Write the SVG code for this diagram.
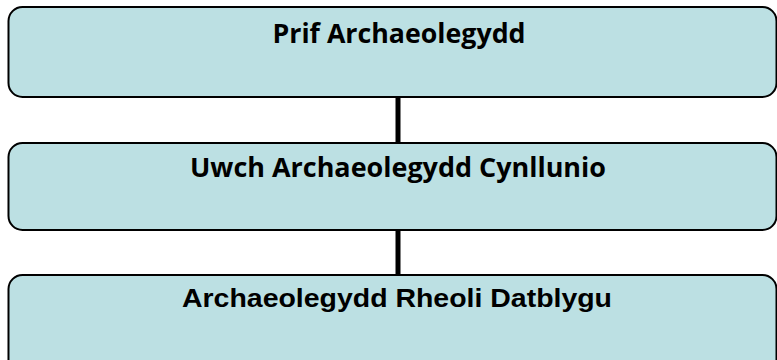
<svg xmlns="http://www.w3.org/2000/svg" width="777" height="360" viewBox="0 0 777 360">
<style>
.box{fill:#BCE0E3;stroke:#000;stroke-width:2}
.t1{font-family:"Open Sans","Liberation Sans",sans-serif;font-weight:bold;font-size:26px;fill:#000}
.t2{font-family:"Liberation Sans",Arial,sans-serif;font-weight:bold;font-size:26px;fill:#000}
.conn{stroke:#000;stroke-width:5;fill:none}
</style>
<rect width="777" height="360" fill="#fff"/>
<g id="connectors">
<line class="conn" x1="398" y1="97" x2="398" y2="143"/>
<line class="conn" x1="398" y1="230" x2="398" y2="275"/>
</g>
<g id="node1">
<rect class="box" x="8.5" y="7" width="768" height="90" rx="14"/>
<text class="t1" x="399" y="43" text-anchor="middle" textLength="253" lengthAdjust="spacingAndGlyphs">Prif Archaeolegydd</text>
</g>
<g id="node2">
<rect class="box" x="8.5" y="143" width="768" height="87" rx="14"/>
<text class="t1" x="398" y="177" text-anchor="middle" textLength="416" lengthAdjust="spacingAndGlyphs">Uwch Archaeolegydd Cynllunio</text>
</g>
<g id="node3">
<rect class="box" x="8.5" y="275" width="768" height="100" rx="14"/>
<text class="t2" x="397" y="307" text-anchor="middle" textLength="430" lengthAdjust="spacingAndGlyphs">Archaeolegydd Rheoli Datblygu</text>
</g>
</svg>
